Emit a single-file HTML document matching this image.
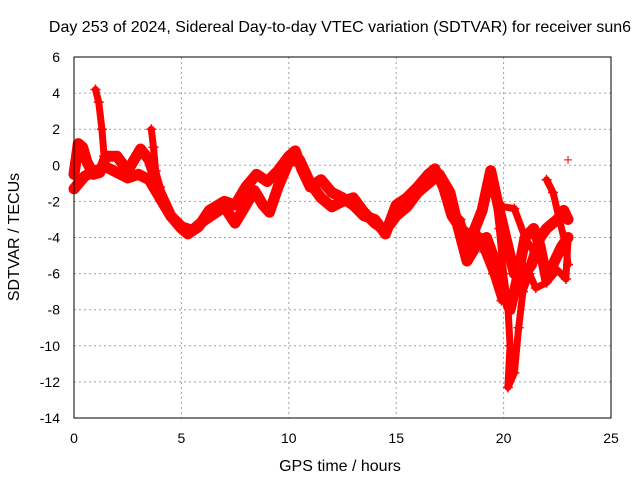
<!DOCTYPE html>
<html><head><meta charset="utf-8"><style>
body{margin:0;background:#fff}
svg{font-family:"Liberation Sans",sans-serif;}
</style></head><body>
<svg id="c" width="640" height="480">
<rect width="640" height="480" fill="#fff"/>
<text x="340" y="32" font-size="16" text-anchor="middle">Day 253 of 2024, Sidereal Day-to-day VTEC variation (SDTVAR) for receiver sun6</text>
<text x="340" y="471" font-size="16" text-anchor="middle">GPS time / hours</text>
<text x="0" y="0" font-size="16" text-anchor="middle" transform="translate(19,237) rotate(-90)">SDTVAR / TECUs</text>
<g id="grid"></g><g id="ticks"></g><g id="marks"></g>
<rect x="74" y="57" width="537" height="361" fill="none" stroke="#000" stroke-width="1"/>
</svg>
<script>
const xTicks=[0,5,10,15,20,25];
const yTicks=[6,4,2,0,-2,-4,-6,-8,-10,-12,-14];
const track1=[[0,-0.5],[0.2,1.2],[0.4,1.0],[0.6,0.2],[0.9,-0.5],[1.2,-0.4],[1.5,0.5],[2,0.5],[2.5,-0.3],[3.1,0.9],[3.5,0.3],[4,-1.5],[4.5,-2.8],[5,-3.5],[5.3,-3.8],[5.8,-3.4],[6.3,-2.5],[7,-2],[7.5,-2.2],[8,-1.2],[8.5,-0.5],[9,-0.9],[9.5,-0.3],[10,0.5],[10.3,0.8],[10.6,-0.2],[11,-1.2],[11.5,-0.8],[12,-1.5],[12.5,-1.8],[13,-2.2],[13.5,-2.8],[14,-3.0],[14.5,-3.8],[15,-2.2],[15.5,-1.8],[16,-1.2],[16.5,-0.5],[16.8,-0.2],[17.2,-1.2],[17.6,-2.8],[18,-3.5],[18.5,-4],[19,-2.5],[19.4,-0.3],[19.8,-2.5],[20.2,-4.5],[20.5,-6],[20.8,-6.3],[21,-6.0],[21.3,-5.5],[21.7,-4],[22,-3.5],[22.5,-3],[22.8,-2.5],[23,-3]];
const track2=[[0,-1.3],[0.5,-0.6],[1,-0.3],[1.5,-0.1],[2,-0.4],[2.5,-0.7],[3,-0.5],[3.5,-0.8],[4,-1.8],[4.5,-2.8],[5,-3.4],[5.5,-3.6],[6,-3.1],[6.5,-2.7],[7,-2.3],[7.5,-3.2],[8,-2.2],[8.4,-1.4],[8.8,-2.2],[9.1,-2.6],[9.5,-1.2],[10,0.2],[10.5,0.3],[11,-1.0],[11.5,-1.8],[12,-2.3],[12.5,-2.0],[13,-1.8],[13.5,-2.6],[14,-3.2],[14.5,-3.6],[15,-2.8],[15.5,-2.3],[16,-1.5],[16.5,-1.0],[17,-0.5],[17.5,-1.5],[17.9,-3.5],[18.3,-5.3],[18.7,-4.5],[19.2,-4.0],[19.6,-5.3],[20,-7],[20.3,-8],[20.6,-6.5],[21,-4],[21.4,-3.5],[21.7,-4.5],[22,-6.3],[22.3,-5.5],[22.7,-4.5],[23,-4]];
const track3=[[19.4,-0.5],[19.6,-1.5],[19.8,-3.5],[20,-6],[20.2,-7.8],[20.3,-10],[20.2,-12.3],[20.5,-11.5],[20.7,-9],[20.9,-7],[21.2,-6],[21.5,-6.8],[22,-6.5],[22.5,-5.8],[22.9,-6.3],[23,-4]];
const track4=[[1.0,4.2],[1.15,3.5],[1.3,2.0],[1.4,0.5],[1.5,0]];
const track5=[[3.6,2.0],[3.7,1.0],[3.8,-0.3],[4.0,-1.2]];
const track6=[[22,-0.8],[22.3,-1.5],[22.6,-3],[22.9,-4.5],[23,-5.5]];
const track7=[[20,-2.3],[20.5,-2.4],[21,-4],[21.5,-5],[22,-5.5]];
const track8=[[17.5,-2.5],[18,-3],[18.4,-4.5],[18.8,-3.8],[19.1,-4.8],[19.5,-6],[19.9,-7.5]];
const outlier=[[23,0.3]];
const tracks=[track1,track2,track3,track4,track5,track6,track7,track8];
const X=v=>74+v*537/25, Y=v=>57+(6-v)*361/20;
const NS='http://www.w3.org/2000/svg';
function mk(tag,attrs,parent){const e=document.createElementNS(NS,tag);for(const k in attrs)e.setAttribute(k,attrs[k]);parent.appendChild(e);return e;}
const grid=document.getElementById('grid'),ticks=document.getElementById('ticks'),marks=document.getElementById('marks');
xTicks.forEach(t=>{
 if(t>0&&t<25){const g=mk('line',{x1:X(t),x2:X(t),y1:57,y2:418,stroke:'#a0a0a0','stroke-dasharray':'2,3'},grid);
 
 }
 const l=mk('text',{x:X(t),y:443,'font-size':14,'text-anchor':'middle'},ticks);l.textContent=t;
 
 
});
yTicks.forEach(t=>{
 if(t<6&&t>-14){const g=mk('line',{x1:74,x2:611,y1:Y(t),y2:Y(t),stroke:'#a0a0a0','stroke-dasharray':'2,3'},grid);
 
 }
 const l=mk('text',{x:60,y:Y(t)+5,'font-size':14,'text-anchor':'end'},ticks);l.textContent=t;
 
 
});
tracks.forEach((tr,i)=>{
 const p=mk('polyline',{points:tr.map(d=>X(d[0])+','+Y(d[1])).join(' '),fill:'none',stroke:'#f00','stroke-width':(i>=2?7:11),'stroke-linejoin':'round','stroke-linecap':'round'},marks);
 
 
 tr.forEach(d=>{
  const m=mk('path',{d:`M${X(d[0])-5},${Y(d[1])}h10M${X(d[0])},${Y(d[1])-5}v10`,stroke:'#f00','stroke-width':1.5},marks);
  
  
 });
});
outlier.forEach(d=>{
 const m=mk('path',{d:`M${X(d[0])-4},${Y(d[1])}h8M${X(d[0])},${Y(d[1])-4}v8`,stroke:'#f00','stroke-width':1},marks);
 
 
});
</script>
</body></html>
